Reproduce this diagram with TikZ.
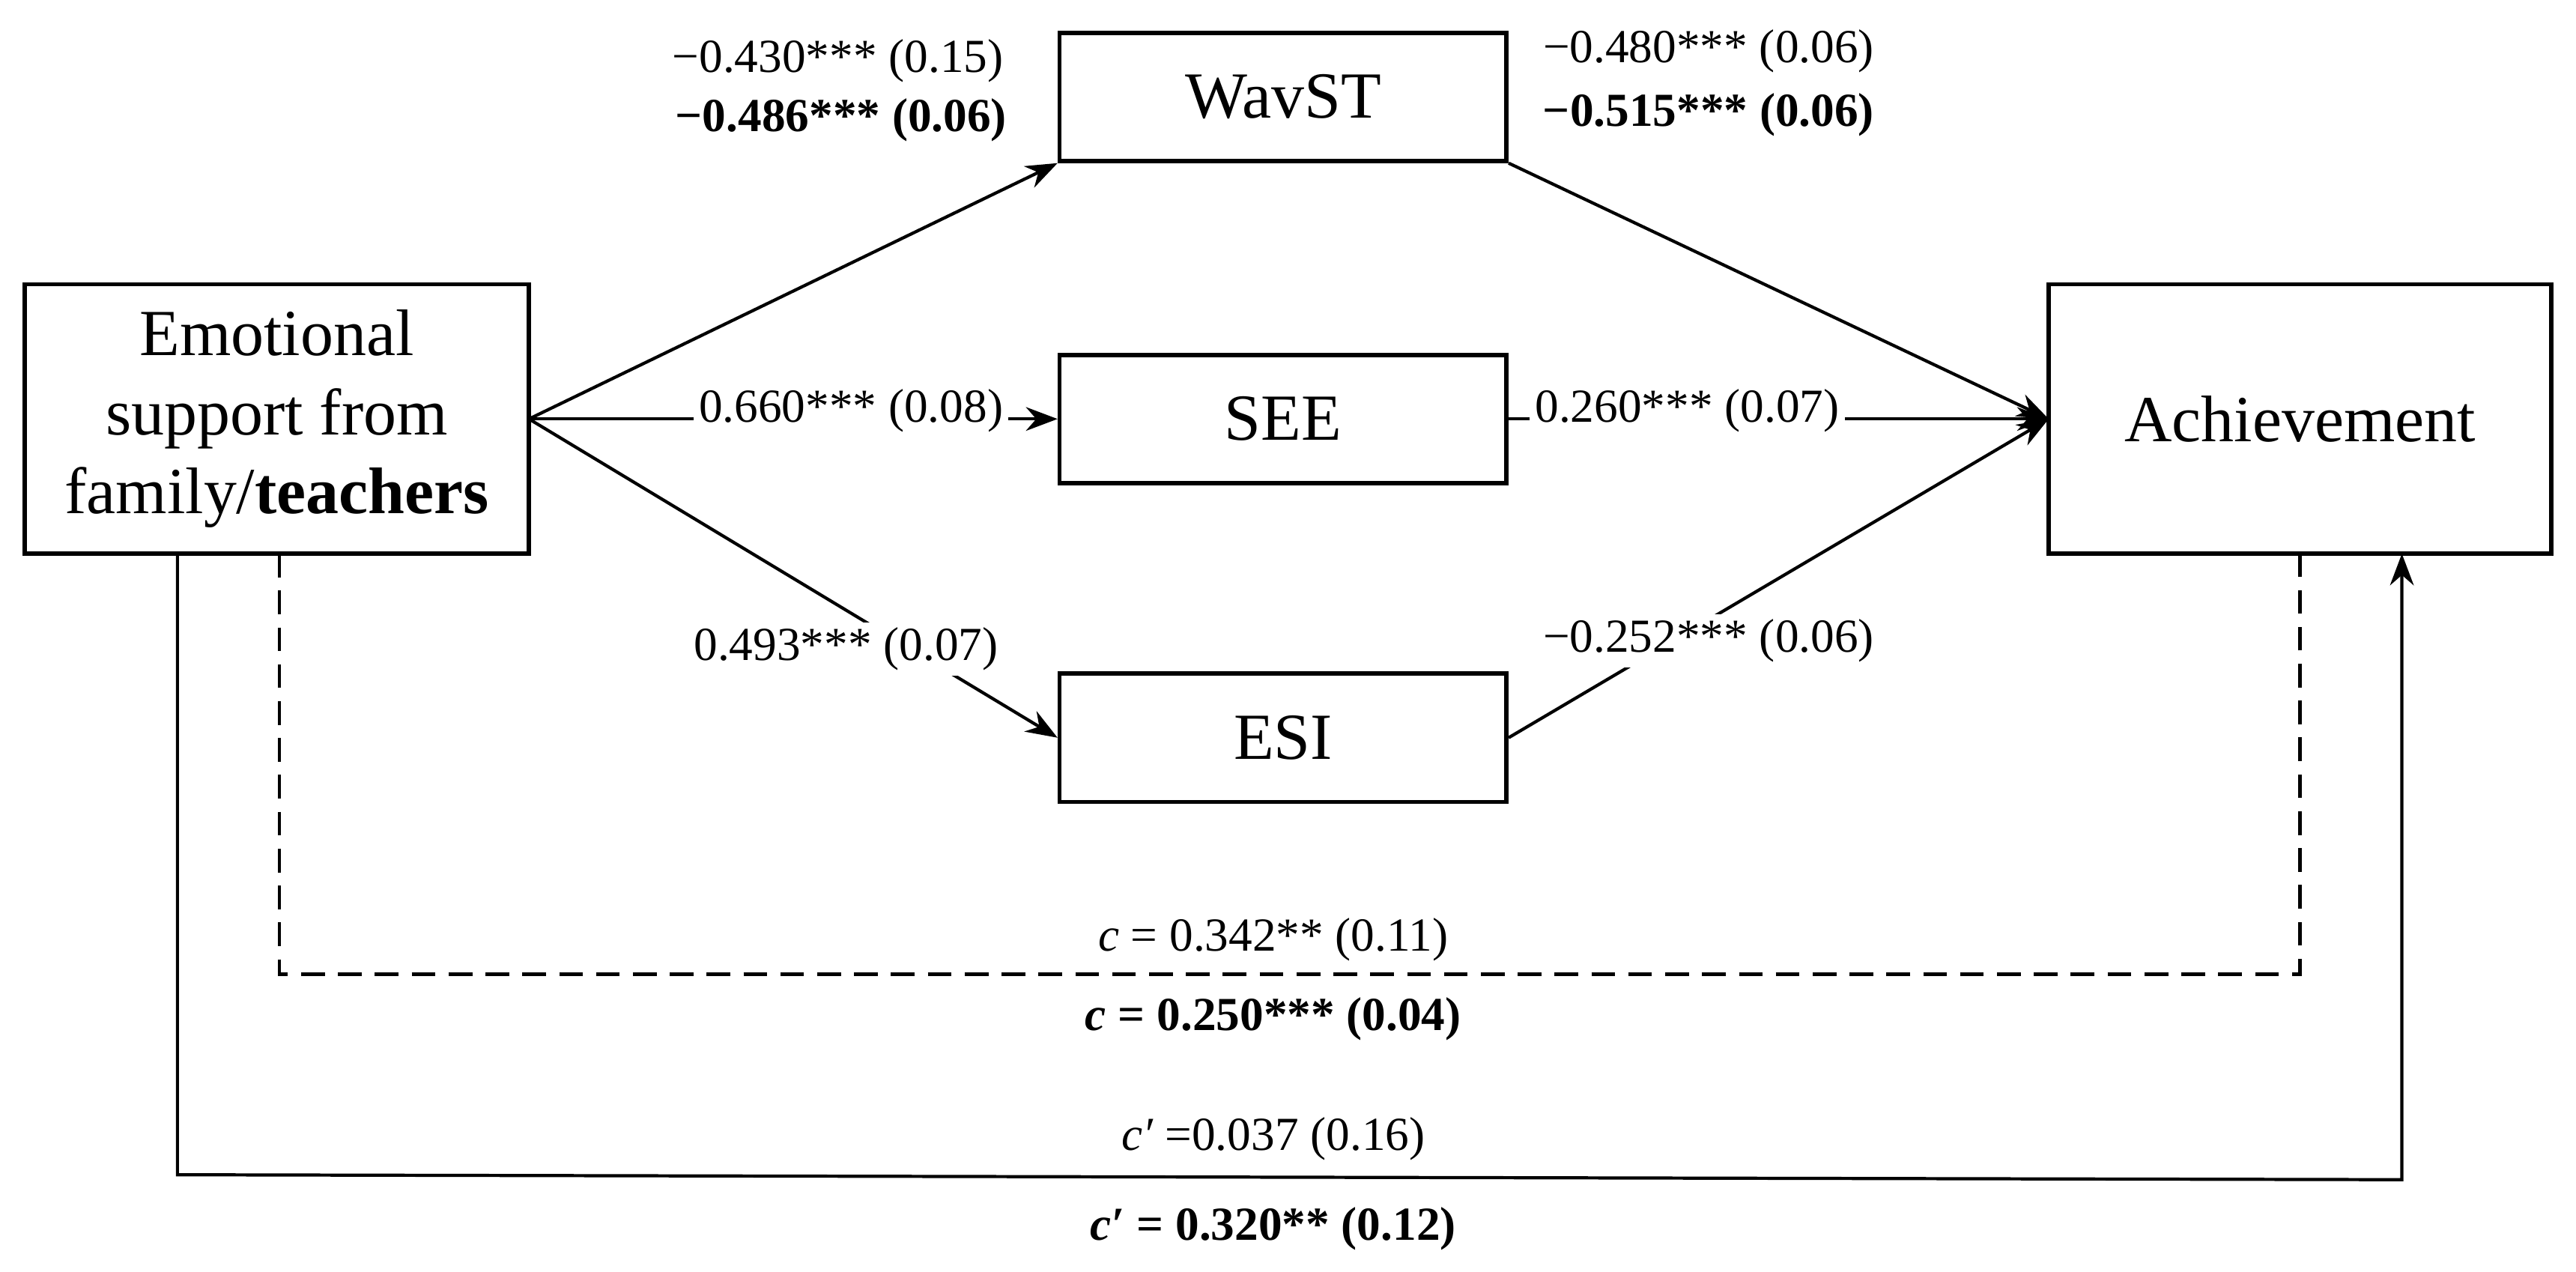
\documentclass[tikz,border=0pt]{standalone}
\usepackage{fontspec}
\setmainfont{Liberation Serif}
\usetikzlibrary{arrows.meta}
\begin{document}
\begin{tikzpicture}[x=0.02193cm,y=-0.02193cm,
 box/.style={draw,line width=1.6pt,inner sep=0pt,font=\fontsize{25}{30}\selectfont,align=center},
 lab/.style={font=\fontsize{18}{22}\selectfont,inner sep=2pt},
 wl/.style={lab,fill=white},
 ln/.style={line width=1.2pt},
 arr/.style={ln,-{Stealth[length=12pt,width=9pt]}}]
\useasboundingbox (0,0) rectangle (1568,774);
\node[box,minimum width=307*0.02193cm,minimum height=164*0.02193cm] (E) at (168.5,255) {Emotional\\support from\\family/\textbf{teachers}};
\node[box,minimum width=306*0.02193cm,minimum height=164*0.02193cm] (A) at (1400,255) {Achievement};
\node[box,minimum width=272*0.02193cm,minimum height=78*0.02193cm] (W) at (781,59) {WavST};
\node[box,minimum width=272*0.02193cm,minimum height=78*0.02193cm] (S) at (781,255) {SEE};
\node[box,minimum width=272*0.02193cm,minimum height=78*0.02193cm] (I) at (781,449) {ESI};
\coordinate (Ein) at (322,255);
\coordinate (Ain) at (1247,255);
\draw[arr] (Ein) -- (W.south west);
\draw[arr] (Ein) -- (S.west);
\draw[arr] (Ein) -- (I.west);
\draw[arr] (W.south east) -- (Ain);
\draw[arr] (S.east) -- (Ain);
\draw[arr] (I.east) -- (Ain);
\node[lab] (l1) at (510,37) {−0.430*** (0.15)};
\node[wl] (l2) at (512,73) {\textbf{−0.486*** (0.06)}};
\node[wl] (l3) at (518,250) {0.660*** (0.08)};
\node[wl] (l4) at (515,395) {0.493*** (0.07)};
\node[lab] (l5) at (1040,31) {−0.480*** (0.06)};
\node[lab] (l6) at (1040,70) {\textbf{−0.515*** (0.06)}};
\node[wl] (l7) at (1027,250) {0.260*** (0.07)};
\node[wl] (l8) at (1040,390) {−0.252*** (0.06)};
\coordinate (d1) at (170,337); \coordinate (d2) at (1400,337);
\draw[ln,dash pattern=on 9pt off 5pt] (d1) -- (170,593) -- (1400,593) -- (d2);
\coordinate (s1) at (108,337); \coordinate (s2) at (1462,337);
\draw[arr] (s1) -- (108,715) -- (1462,718) -- (s2);
\node[lab] (c1) at (775,572) {\textit{c} = 0.342** (0.11)};
\node[lab] (c2) at (775,620) {\textbf{\textit{c} = 0.250*** (0.04)}};
\node[lab] (c3) at (775,693) {\textit{c′} =0.037 (0.16)};
\node[lab] (c4) at (775,748) {\textbf{\textit{c′} = 0.320** (0.12)}};
\end{tikzpicture}
\end{document}
